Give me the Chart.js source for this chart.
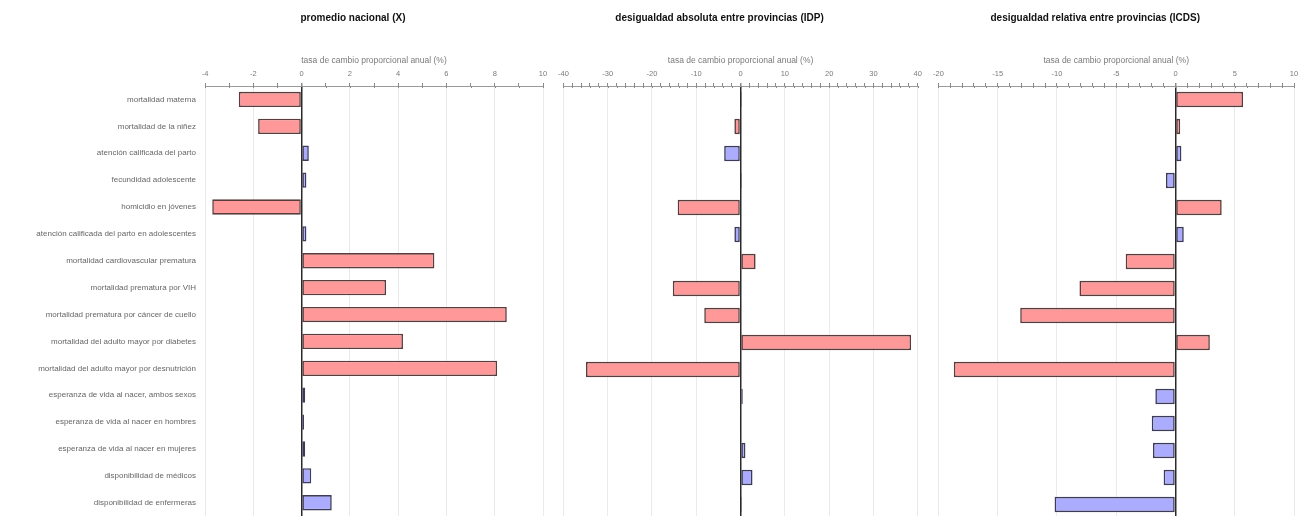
<!DOCTYPE html>
<html lang="es">
<head>
<meta charset="utf-8">
<title>Tasa de cambio proporcional anual</title>
<script src="https://cdn.jsdelivr.net/npm/chart.js@4.4.1/dist/chart.umd.min.js"></script>
<style>
  html, body { margin: 0; padding: 0; background: #fff; overflow: hidden; }
  #wrap { position: relative; width: 1309px; height: 516px; overflow: hidden; }
  canvas { position: absolute; top: 0; }
</style>
</head>
<body>
<div id="wrap">
  <canvas id="c1" width="553" height="530" style="left:0px"></canvas>
  <canvas id="c2" width="375" height="530" style="left:553px"></canvas>
  <canvas id="c3" width="381" height="530" style="left:928px"></canvas>
</div>
<script>
// Indicadores
const categories = [
  'mortalidad materna',
  'mortalidad de la niñez',
  'atención calificada del parto',
  'fecundidad adolescente',
  'homicidio en jóvenes',
  'atención calificada del parto en adolescentes',
  'mortalidad cardiovascular prematura',
  'mortalidad prematura por VIH',
  'mortalidad prematura por cáncer de cuello',
  'mortalidad del adulto mayor por diabetes',
  'mortalidad del adulto mayor por desnutrición',
  'esperanza de vida al nacer, ambos sexos',
  'esperanza de vida al nacer en hombres',
  'esperanza de vida al nacer en mujeres',
  'disponibilidad de médicos',
  'disponibilidad de enfermeras'
];

// Grupo de cada indicador: 'd' = daño (mortalidad, homicidio), 'p' = protección/recursos
const grupo = ['d','d','p','p','d','p','d','d','d','d','d','p','p','p','p','p'];

// Tasa de cambio proporcional anual (%)
const promedioNacional = [-2.6, -1.8, 0.3, 0.2, -3.7, 0.2, 5.5, 3.5, 8.5, 4.2, 8.1, 0.15, 0.1, 0.15, 0.4, 1.25];
const desigualdadAbsoluta = [0.3, -1.4, -3.7, 0.3, -14.2, -1.4, 3.4, -15.3, -8.2, 38.5, -34.9, 0.5, -0.2, 1.1, 2.7, 0.3];
const desigualdadRelativa = [5.7, 0.4, 0.5, -0.8, 3.9, 0.7, -4.2, -8.1, -13.1, 2.9, -18.7, -1.7, -2.0, -1.9, -1.0, -10.2];

// Títulos y ejes
const panelTitles = ['promedio nacional (X)', 'desigualdad absoluta entre provincias (IDP)', 'desigualdad relativa entre provincias (ICDS)'];
const axisTitle = 'tasa de cambio proporcional anual (%)';
const axisRanges = [
  { min: -4, max: 10, minor: 1, major: 2 },
  { min: -40, max: 40, minor: 2, major: 10 },
  { min: -20, max: 10, minor: 1, major: 5 }
];

Chart.defaults.font.family = '"Liberation Sans", Arial, sans-serif';
Chart.defaults.animation = false;

const fillFor = g => g === 'd' ? 'rgb(255,153,153)' : 'rgb(172,172,255)';
const borderFor = g => g === 'd' ? '#5a3c3c' : '#3c3c5a';

// Bold panel heading plus short tick marks that cross below the top axis line
const panelTitlePlugin = {
  id: 'panelTitle',
  afterDraw(chart, args, opts) {
    const { ctx, chartArea } = chart;
    const xs = chart.scales.x;
    ctx.save();
    ctx.strokeStyle = '#8a8a8a';
    ctx.lineWidth = 1;
    ctx.beginPath();
    xs.ticks.forEach(t => {
      const px = Math.round(xs.getPixelForValue(t.value)) + 0.5;
      ctx.moveTo(px, chartArea.top);
      ctx.lineTo(px, chartArea.top + 2);
    });
    ctx.stroke();
    ctx.font = 'bold 10px "Liberation Sans", Arial, sans-serif';
    ctx.fillStyle = '#111';
    ctx.textAlign = 'center';
    ctx.textBaseline = 'middle';
    ctx.fillText(opts.text, (chartArea.left + chartArea.right) / 2 - 21, 18);
    ctx.restore();
  }
};

function buildPanel(canvasId, values, range, title, showLabels, pad) {
  return new Chart(document.getElementById(canvasId), {
    type: 'bar',
    data: {
      labels: categories,
      datasets: [{
        data: values,
        backgroundColor: grupo.map(fillFor),
        borderColor: grupo.map(borderFor),
        borderWidth: 1.6,
        borderSkipped: false,
        barPercentage: 0.57,
        categoryPercentage: 1
      }]
    },
    options: {
      indexAxis: 'y',
      responsive: false,
      devicePixelRatio: 1,
      layout: { padding: { left: pad.left, right: pad.right, top: 0, bottom: 12 } },
      plugins: {
        legend: { display: false },
        tooltip: { enabled: false },
        panelTitle: { text: title }
      },
      scales: {
        x: {
          type: 'linear',
          position: 'top',
          min: range.min,
          max: range.max,
          afterFit(scale) { scale.height = 86; },
          ticks: {
            stepSize: range.minor,
            autoSkip: false,
            maxRotation: 0,
            padding: 5,
            color: '#7a7a7a',
            font: { size: 7.5 },
            callback: v => (Math.abs(v % range.major) < 1e-9 ? String(v) : '')
          },
          grid: {
            drawOnChartArea: true,
            tickLength: 3,
            tickColor: '#8a8a8a',
            color: ctx => {
              const v = ctx.tick ? ctx.tick.value : null;
              if (v === 0) return '#2a2a2a';
              if (v !== null && Math.abs(v % range.major) < 1e-9) return '#ebebeb';
              return 'rgba(0,0,0,0)';
            },
            lineWidth: ctx => (ctx.tick && ctx.tick.value === 0 ? 1.5 : 1)
          },
          border: { display: true, color: '#9a9a9a', width: 1 },
          title: {
            display: true,
            text: axisTitle,
            color: '#7a7a7a',
            font: { size: 8.5 },
            padding: { top: 56, bottom: 0 }
          }
        },
        y: {
          display: showLabels,
          afterFit(scale) { if (showLabels) scale.width = 205; },
          grid: { display: false, drawTicks: false },
          border: { display: false },
          ticks: {
            autoSkip: false,
            padding: 9,
            color: '#666',
            font: { size: 8 }
          }
        }
      }
    },
    plugins: [panelTitlePlugin]
  });
}

buildPanel('c1', promedioNacional, axisRanges[0], panelTitles[0], true, { left: 0, right: 10 });
buildPanel('c2', desigualdadAbsoluta, axisRanges[1], panelTitles[1], false, { left: 7.7, right: 10.3 });
buildPanel('c3', desigualdadRelativa, axisRanges[2], panelTitles[2], false, { left: 8.7, right: 15 });
</script>
</body>
</html>
